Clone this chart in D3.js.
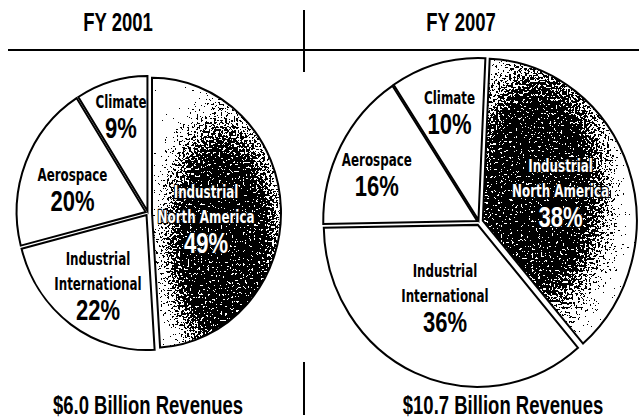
<!DOCTYPE html>
<html>
<head>
<meta charset="utf-8">
<script src="https://cdn.jsdelivr.net/npm/d3@7"></script>
<style>
  html, body { margin: 0; padding: 0; background: #fff; }
  svg { display: block; }
</style>
</head>
<body>
<svg id="chart" width="639" height="420"></svg>
<script>
// Revenue mix by business segment, two fiscal years
const segments   = ["Industrial North America", "Industrial International", "Aerospace", "Climate"];
const labelLines = [["Industrial", "North America"], ["Industrial", "International"], ["Aerospace"], ["Climate"]];
const years      = ["FY 2001", "FY 2007"];
const share2001  = [49, 22, 20, 9];
const share2007  = [38, 36, 16, 10];
const revenues   = ["$6.0 Billion Revenues", "$10.7 Billion Revenues"];

const FONT      = "'Liberation Sans',Arial,'DejaVu Sans',sans-serif";
const NAME_FONT = "'DejaVu Sans',Verdana,sans-serif";

// geometry for each pie: centre, radii, rotation, slice pull-out and label placement
const layout = [
  { cx: 148, cy: 213, rx: 129, ry: 135, rot: 0,
    pull: [4, 2.5, 2.5, 2], labelR: [0.45, 0.66, 0.63, 0.75], labelDy: [7, 0, 7, 0],
    titleX: 118, revX: 148, grainCx: 0.55, grainCy: 0.6 },
  { cx: 479, cy: 222, rx: 154, ry: 162, rot: 0.045,
    pull: [4, 3, 2, 2], labelR: [0.56, 0.54, 0.75, 0.72], labelDy: [0, -4, 9, 2],
    titleX: 461, revX: 503, grainCx: 0.36, grainCy: 0.46 }
];
const shares = [share2001, share2007];

const svg = d3.select("#chart");
const defs = svg.append("defs");

// speckled print texture: noise thresholded against a soft density map
const filt = defs.append("filter").attr("id", "grain")
  .attr("x", -0.05).attr("y", -0.05).attr("width", 1.1).attr("height", 1.1)
  .attr("color-interpolation-filters", "sRGB");
filt.append("feTurbulence").attr("type", "fractalNoise")
  .attr("baseFrequency", 0.45).attr("numOctaves", 3).attr("seed", 11).attr("result", "noise");
filt.append("feColorMatrix").attr("in", "noise").attr("type", "matrix")
  .attr("values", "0 0 0 0 0  0 0 0 0 0  0 0 0 0 0  1 0 0 0 0").attr("result", "na");
filt.append("feComposite").attr("in", "SourceGraphic").attr("in2", "na")
  .attr("operator", "arithmetic")
  .attr("k1", 0).attr("k2", 2).attr("k3", 3).attr("k4", -2.4).attr("result", "sum");
filt.append("feComponentTransfer").attr("in", "sum")
  .append("feFuncA").attr("type", "discrete").attr("tableValues", "0 1");

const pie = d3.pie().sort(null).value(d => d);

// condensed text drawn by squeezing a regular face horizontally
function label(parent, x, y, str, size, squeeze, inverse, family) {
  const el = parent.append("g").attr("transform", `translate(${x},${y})`)
    .append("text")
    .attr("transform", `scale(${squeeze},1)`)
    .attr("text-anchor", "middle")
    .attr("font-family", family || FONT).attr("font-size", size).attr("font-weight", "bold")
    .text(str);
  if (inverse) {
    el.attr("fill", "#fff").attr("stroke", "#000").attr("stroke-width", 2.6)
      .attr("paint-order", "stroke").attr("stroke-linejoin", "round");
  } else {
    el.attr("fill", "#000");
  }
  return el;
}

function textBlock(g, x, yCenter, lines, pct, inverse) {
  const capName = 14, nameStep = 25, pctStep = 30;
  const total = capName + nameStep * (lines.length - 1) + pctStep;
  const y0 = yCenter - total / 2 + capName;
  lines.forEach((s, i) => label(g, x, y0 + i * nameStep, s, 18, 0.66, inverse, NAME_FONT));
  label(g, x, y0 + nameStep * (lines.length - 1) + pctStep, pct + "%", 29, 0.76, inverse);
}

layout.forEach((L, p) => {
  const arc = d3.arc().innerRadius(0).outerRadius(L.rx);
  const k = L.ry / L.rx;
  const data = pie.startAngle(L.rot).endAngle(L.rot + 2 * Math.PI)(shares[p]);
  const base = `translate(${L.cx},${L.cy}) scale(1,${k})`;

  // density map for the textured slice
  const grad = defs.append("radialGradient").attr("id", "dens" + p)
    .attr("cx", L.grainCx).attr("cy", L.grainCy).attr("r", 0.62);
  [[0, 1], [0.5, 0.95], [0.8, 0.5], [1, 0.25]].forEach(([o, a]) =>
    grad.append("stop").attr("offset", o).attr("stop-color", "#000").attr("stop-opacity", a));

  const g = svg.append("g").attr("transform", base);
  const offs = data.map(d => {
    const mid = (d.startAngle + d.endAngle) / 2;
    const i = d.index;
    return [L.pull[i] * Math.sin(mid), -L.pull[i] * Math.cos(mid)];
  });

  data.forEach((d, i) => {
    g.append("path").attr("d", arc(d))
      .attr("transform", `translate(${offs[i][0]},${offs[i][1]})`)
      .attr("fill", "#fff");
  });

  // textured first slice, clipped to its own outline
  const cid = "clip" + p;
  defs.append("clipPath").attr("id", cid)
    .append("path").attr("d", arc(data[0]))
    .attr("transform", `translate(${offs[0][0]},${offs[0][1]})`);
  g.append("g").attr("clip-path", `url(#${cid})`)
    .append("path").attr("d", arc(data[0]))
    .attr("transform", `translate(${offs[0][0]},${offs[0][1]})`)
    .attr("fill", `url(#dens${p})`)
    .attr("filter", "url(#grain)");

  // outlines drawn above the texture
  data.forEach((d, i) => {
    g.append("path").attr("d", arc(d))
      .attr("transform", `translate(${offs[i][0]},${offs[i][1]})`)
      .attr("fill", "none").attr("stroke", "#000").attr("stroke-width", 2)
      .attr("vector-effect", "non-scaling-stroke");
  });

  // slice labels
  data.forEach((d, i) => {
    const mid = (d.startAngle + d.endAngle) / 2;
    const x = L.cx + L.labelR[i] * L.rx * Math.sin(mid);
    const y = L.cy - L.labelR[i] * L.ry * Math.cos(mid) + L.labelDy[i];
    textBlock(svg, x, y, labelLines[i], shares[p][i], i === 0);
  });

  // year heading and revenue caption
  label(svg, L.titleX, 31, years[p], 25, 0.74, false);
  label(svg, L.revX, 414, revenues[p], 25, 0.74, false);
});

// rules
svg.append("line").attr("x1", 8).attr("x2", 639).attr("y1", 50).attr("y2", 50)
  .attr("stroke", "#000").attr("stroke-width", 2);
svg.append("line").attr("x1", 304).attr("x2", 304).attr("y1", 10).attr("y2", 72)
  .attr("stroke", "#000").attr("stroke-width", 2);
svg.append("line").attr("x1", 304).attr("x2", 304).attr("y1", 362).attr("y2", 415)
  .attr("stroke", "#000").attr("stroke-width", 2);
</script>
</body>
</html>
